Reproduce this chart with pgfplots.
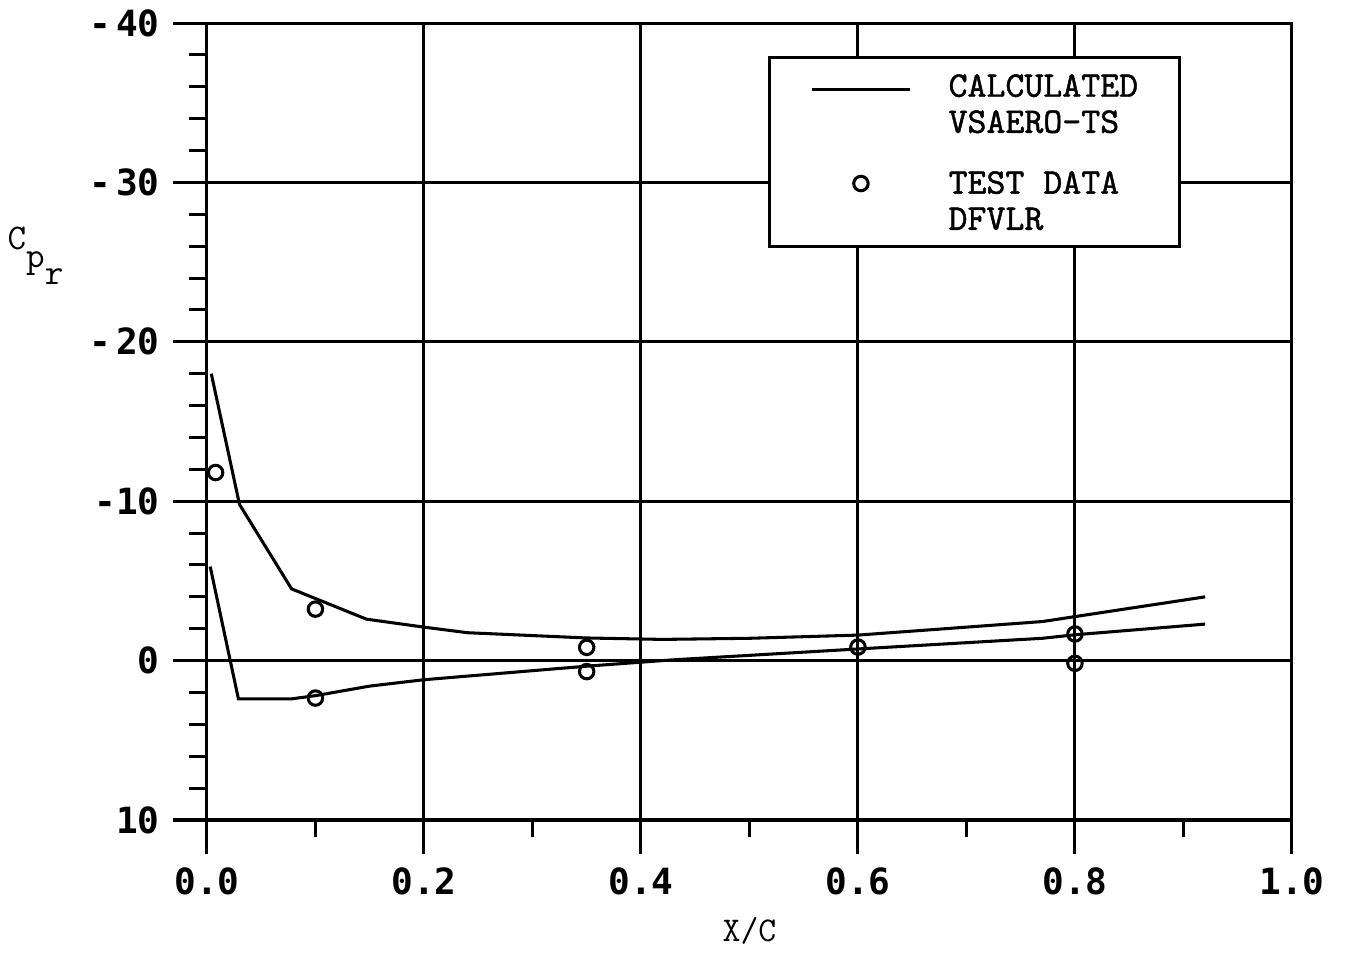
\documentclass[border=0pt]{standalone}
\usepackage{fontspec}
\usepackage{pgfplots}
\pgfplotsset{compat=1.18}
\newfontfamily\tickfont{DejaVu Sans Mono}
\newfontfamily\lgfont[FakeBold=1.2]{lmmono10-regular.otf}

% legend samples: short line / single circle, lifted towards the first text line
\pgfplotsset{
  calc leg/.style={legend image code/.code={%
    \path (0pt,0pt) (35.3pt,0pt);
    \draw[##1] (0pt,5pt) -- (35.3pt,5pt);}},
  test leg/.style={legend image code/.code={%
    \path (0pt,0pt) (35.3pt,0pt);
    \draw[##1] plot coordinates {(17.6pt,6.1pt)};}},
}

\begin{document}
\begin{tikzpicture}
\begin{axis}[
  scale only axis, width=390.6pt, height=286.9pt,
  xmin=0, xmax=1, ymin=-40, ymax=10, y dir=reverse,
  xtick={0,0.2,0.4,0.6,0.8,1},
  xticklabels={0.0,0.2,0.4,0.6,0.8,1.0},
  minor xtick={0.1,0.3,0.5,0.7,0.9},
  ytick={-40,-30,-20,-10,0,10},
  yticklabels={-\kern1.8pt40,-\kern1.8pt30,-\kern1.8pt20,-10,0,10},
  minor y tick num=4,
  tick align=outside, tick pos=left,
  major tick length=12.2pt, minor tick length=6.3pt,
  tick style={black, line width=1.1pt},
  grid=major, major grid style={black, line width=1.1pt},
  axis line style={line width=1.1pt},
  tick label style={font=\tickfont\bfseries\fontsize{13}{13}\selectfont},
  xticklabel shift=1.3pt, yticklabel shift=1.3pt,
  xlabel={X/C},
  xlabel style={font=\ttfamily\fontsize{12.5}{12.5}\selectfont,
    at={(axis description cs:0.5,0)}, anchor=base, yshift=-43.6pt},
  ylabel={C\raisebox{-6.3pt}{p}\raisebox{-12.6pt}{r}},
  every axis y label/.style={font=\ttfamily\fontsize{13}{13}\selectfont,
    at={(axis description cs:0,0.708)}, anchor=west, xshift=-75.3pt},
  legend style={at={(axis description cs:0.517,0.9586)}, anchor=north west,
    draw=black, line width=1.1pt, fill=white,
    inner xsep=14.8pt, inner ysep=6pt,
    column sep=13.3pt, row sep=13.8pt,
    font=\lgfont\fontsize{13}{13}\selectfont,
    nodes={align=left, inner sep=0pt, text depth=0pt}},
  legend cell align=left,
]
% calculated, upper surface
\addplot[black, line width=1.1pt, calc leg]
  coordinates {(0.004,-18.0) (0.03,-9.8) (0.078,-4.5) (0.147,-2.6) (0.2,-2.1)
    (0.24,-1.75) (0.35,-1.42) (0.42,-1.33) (0.5,-1.4) (0.6,-1.6) (0.77,-2.45) (0.92,-4.0)};
\addlegendentry{CALCULATED\\VSAERO-TS}
% calculated, lower surface
\addplot[black, line width=1.1pt, forget plot]
  coordinates {(0.003,-5.9) (0.029,2.4) (0.078,2.4) (0.1,2.2) (0.15,1.6) (0.2,1.2)
    (0.35,0.35) (0.4,0.1) (0.43,-0.05) (0.6,-0.73) (0.77,-1.4) (0.8,-1.62) (0.92,-2.29)};
% test data
\addplot[black, only marks, mark=o, mark size=2.6pt, line width=1.1pt, test leg]
  coordinates {(0.008,-11.8) (0.1,-3.23) (0.1,2.35) (0.35,-0.83) (0.35,0.69)
    (0.6,-0.85) (0.8,-1.67) (0.8,0.17)};
\addlegendentry{TEST DATA\\DFVLR}
\end{axis}
\pgfresetboundingbox
\path ([xshift=-74.5pt,yshift=-47.9pt]current axis.south west)
  rectangle ([xshift=19.1pt,yshift=8.3pt]current axis.north east);
\end{tikzpicture}
\end{document}
